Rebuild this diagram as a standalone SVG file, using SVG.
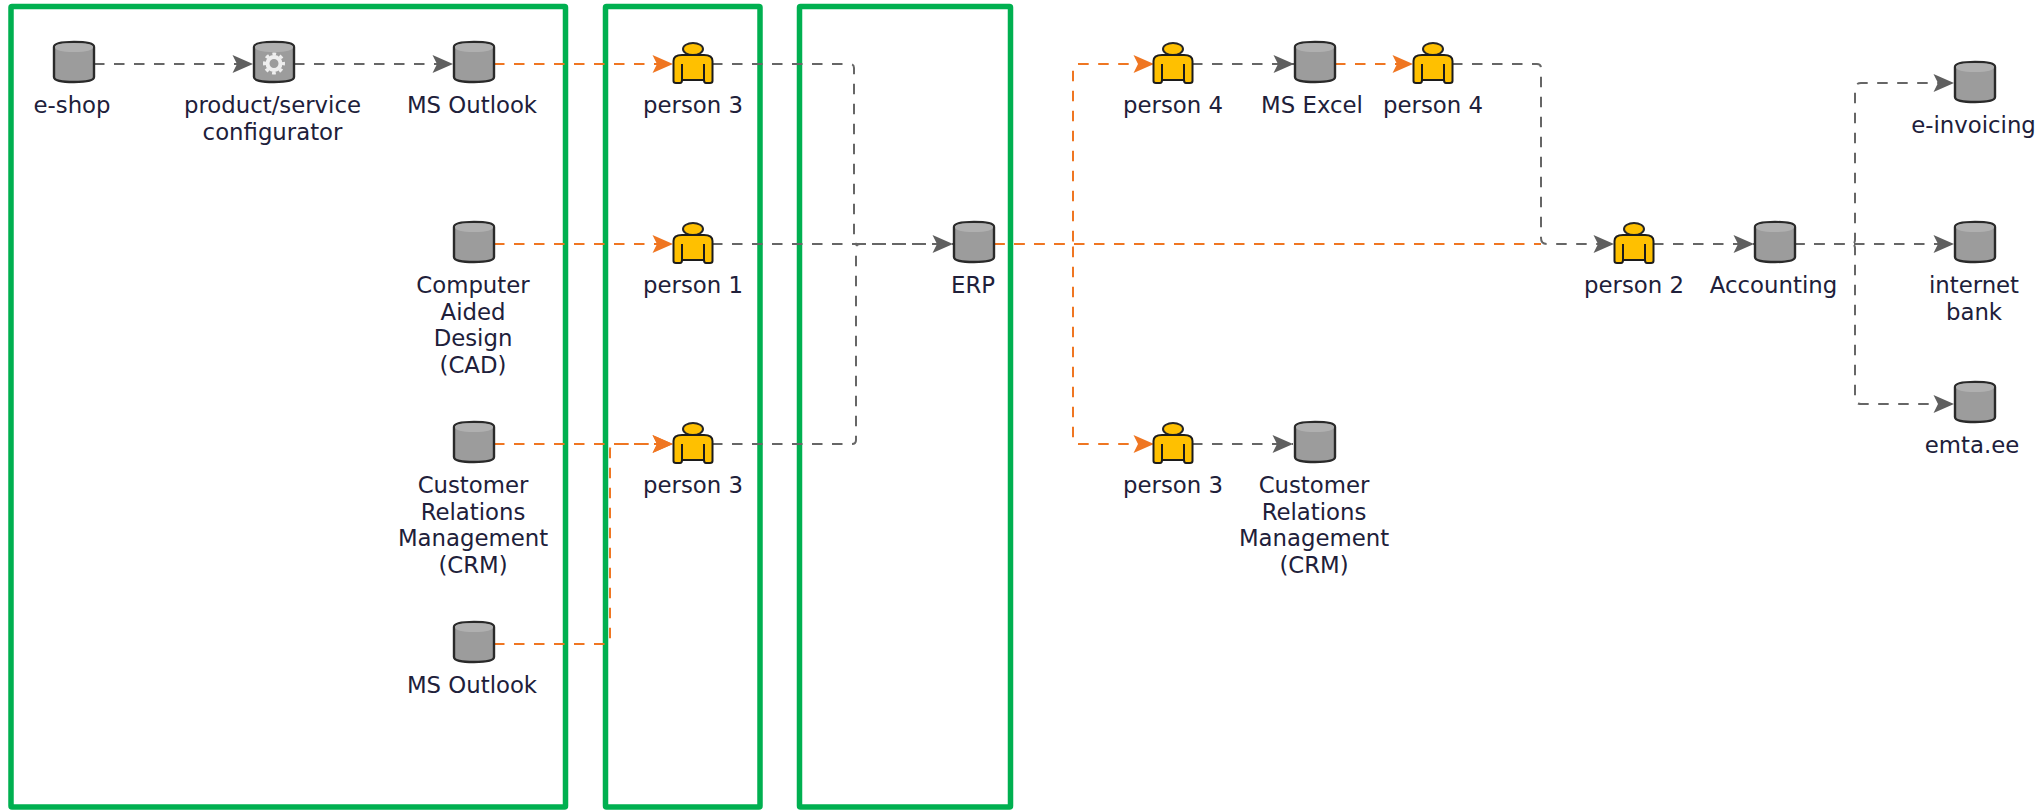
<svg xmlns="http://www.w3.org/2000/svg" width="2039" height="810" viewBox="0 0 2039 810">
<style>
.frame{fill:none;stroke:#00b050;stroke-width:5.5}
.lbl{font-family:"DejaVu Sans",Verdana,sans-serif;font-size:22.8px;fill:#20203a;text-anchor:middle}
.g{fill:none;stroke:#666;stroke-width:2;stroke-dasharray:10.5 9.5;stroke-dashoffset:1}
.o{fill:none;stroke:#ef7622;stroke-width:2;stroke-dasharray:10.5 9.5;stroke-dashoffset:1}
.ga{marker-end:url(#ag)}
.oa{marker-end:url(#ao)}
</style>
<defs>
<marker id="ag" markerUnits="userSpaceOnUse" markerWidth="22" markerHeight="20" refX="21" refY="9.5" orient="auto"><path d="M0.5 0.5L21 9.5L0.5 18.5L5 9.5Z" fill="#5f5f5f"/></marker>
<marker id="ao" markerUnits="userSpaceOnUse" markerWidth="22" markerHeight="20" refX="21" refY="9.5" orient="auto"><path d="M0.5 0.5L21 9.5L0.5 18.5L5 9.5Z" fill="#ef7622"/></marker>
<g id="cyl">
<path d="M-20 -16Q-20 -21 0 -21Q20 -21 20 -16V14Q20 19 0 19Q-20 19 -20 14Z" fill="#9c9c9c" stroke="#2a2a2a" stroke-width="2.4"/>
<path d="M-19 -16Q-19 -20 0 -20Q19 -20 19 -16Q19 -11 0 -11Q-19 -11 -19 -16Z" fill="#b0b0b0"/>
</g>
<g id="per">
<ellipse cx="0" cy="-15" rx="10" ry="6" fill="#ffc000" stroke="#262626" stroke-width="2"/>
<path d="M-19.5 17V-3Q-19.5 -9 -11 -9H11Q19.5 -9 19.5 -3V17Q19.5 19 17 19H13Q11 19 11 16H-11Q-11 19 -13 19H-17Q-19.5 19 -19.5 17Z" fill="#ffc000" stroke="#1c1c1c" stroke-width="2" stroke-linejoin="round"/>
<path d="M-11 16V0M11 16V0" fill="none" stroke="#1c1c1c" stroke-width="2"/>
</g>
</defs>

<g id="frames">
<rect class="frame" x="11" y="6.5" width="554.5" height="800.5" rx="1"/>
<rect class="frame" x="605.5" y="6.5" width="154.5" height="800.5" rx="1"/>
<rect class="frame" x="799.5" y="6.5" width="211" height="800.5" rx="1"/>
</g>

<g id="connectors">
<path class="o oa" d="M495 64H673"/>
<path class="o oa" d="M495 244H673"/>
<path class="o oa" d="M495 444H673"/>
<path class="o oa" d="M495 644H606Q610 644 610 640V450Q610 444 616 444H673"/>
<path class="o" d="M995 244H1541"/>
<path class="o oa" d="M995 244H1069Q1073 244 1073 240V70Q1073 64 1079 64H1154"/>
<path class="o oa" d="M995 244H1069Q1073 244 1073 248V438Q1073 444 1079 444H1154"/>
<path class="o oa" d="M1336 64H1413"/>
<path class="g ga" d="M95 64H253"/>
<path class="g ga" d="M295 64H453"/>
<path class="g" d="M713 64H850Q854 64 854 68V240Q854 244 858 244H953"/>
<path class="g" d="M713 444H852Q856 444 856 440V248Q856 244 860 244H953"/>
<path class="g ga" d="M713 244H953"/>
<path class="g ga" d="M1193 64H1294"/>
<path class="g ga" d="M1193 444H1293"/>
<path class="g ga" d="M1453 64H1537Q1541 64 1541 68V238Q1541 244 1547 244H1614"/>
<path class="g ga" d="M1654 244H1754"/>
<path class="g ga" d="M1795 244H1954"/>
<path class="g ga" d="M1795 244H1851Q1855 244 1855 240V89Q1855 83 1861 83H1954"/>
<path class="g ga" d="M1795 244H1851Q1855 244 1855 248V398Q1855 404 1861 404H1954"/>
</g>

<g id="n-eshop"><use href="#cyl" x="74" y="63"/><text class="lbl" x="72" y="113">e-shop</text></g>
<g id="n-config"><use href="#cyl" x="274" y="63"/>
<circle cx="274" cy="63.5" r="6.5" fill="none" stroke="#eeeeee" stroke-width="4"/>
<circle cx="274" cy="63.5" r="9.5" fill="none" stroke="#eeeeee" stroke-width="3" stroke-dasharray="3.73 3.73" stroke-dashoffset="1.9"/>
<text class="lbl" x="272.5" y="113">product/service</text><text class="lbl" x="272.5" y="140">configurator</text></g>
<g id="n-outlook1"><use href="#cyl" x="474" y="63"/><text class="lbl" x="472" y="113">MS Outlook</text></g>
<g id="n-cad"><use href="#cyl" x="474" y="243"/><text class="lbl" x="473" y="293">Computer</text><text class="lbl" x="473" y="320">Aided</text><text class="lbl" x="473" y="346">Design</text><text class="lbl" x="473" y="373">(CAD)</text></g>
<g id="n-crm1"><use href="#cyl" x="474" y="443"/><text class="lbl" x="473" y="493">Customer</text><text class="lbl" x="473" y="520">Relations</text><text class="lbl" x="473" y="546">Management</text><text class="lbl" x="473" y="573">(CRM)</text></g>
<g id="n-outlook2"><use href="#cyl" x="474" y="643"/><text class="lbl" x="472" y="693">MS Outlook</text></g>
<g id="n-p3a"><use href="#per" x="693" y="64"/><text class="lbl" x="693" y="113">person 3</text></g>
<g id="n-p1"><use href="#per" x="693" y="244"/><text class="lbl" x="693" y="293">person 1</text></g>
<g id="n-p3b"><use href="#per" x="693" y="444"/><text class="lbl" x="693" y="493">person 3</text></g>
<g id="n-erp"><use href="#cyl" x="974" y="243"/><text class="lbl" x="973" y="293">ERP</text></g>
<g id="n-p4a"><use href="#per" x="1173" y="64"/><text class="lbl" x="1173" y="113">person 4</text></g>
<g id="n-excel"><use href="#cyl" x="1315" y="63"/><text class="lbl" x="1312" y="113">MS Excel</text></g>
<g id="n-p4b"><use href="#per" x="1433" y="64"/><text class="lbl" x="1433" y="113">person 4</text></g>
<g id="n-p3c"><use href="#per" x="1173" y="444"/><text class="lbl" x="1173" y="493">person 3</text></g>
<g id="n-crm2"><use href="#cyl" x="1315" y="443"/><text class="lbl" x="1314" y="493">Customer</text><text class="lbl" x="1314" y="520">Relations</text><text class="lbl" x="1314" y="546">Management</text><text class="lbl" x="1314" y="573">(CRM)</text></g>
<g id="n-p2"><use href="#per" x="1634" y="244"/><text class="lbl" x="1634" y="293">person 2</text></g>
<g id="n-acc"><use href="#cyl" x="1775" y="243"/><text class="lbl" x="1773.5" y="293">Accounting</text></g>
<g id="n-einv"><use href="#cyl" x="1975" y="83"/><text class="lbl" x="1973.5" y="133">e-invoicing</text></g>
<g id="n-bank"><use href="#cyl" x="1975" y="243"/><text class="lbl" x="1974" y="293">internet</text><text class="lbl" x="1974" y="320">bank</text></g>
<g id="n-emta"><use href="#cyl" x="1975" y="403"/><text class="lbl" x="1972" y="453">emta.ee</text></g>
</svg>
